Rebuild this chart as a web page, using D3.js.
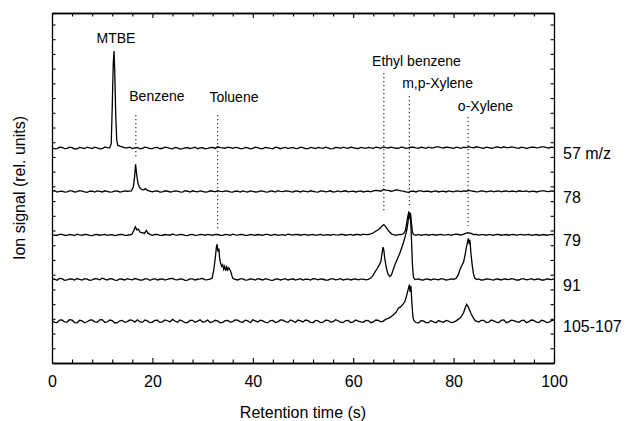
<!DOCTYPE html>
<html>
<head>
<meta charset="utf-8">
<script src="https://cdn.jsdelivr.net/npm/d3@7/dist/d3.min.js"></script>
<style>
  html, body { margin: 0; padding: 0; background: #fff; }
  svg { display: block; }
  text { font-family: "Liberation Sans", Arial, Helvetica, sans-serif; fill: #000; }
</style>
</head>
<body>
<svg id="chart" width="627" height="421"></svg>
<script>
// ---------- DATA ----------
const xTicks = [0, 20, 40, 60, 80, 100];
const traceNames = ["57 m/z", "78", "79", "91", "105-107"];
const traceBaselines = [146, 116.5, 87, 56.7, 28.3];

const trace57 = [[0,0.4],[1,-0.3],[2,0.5],[3,-0.2],[4,0.3],[5,-0.5],[6,0.2],[7,0.6],[8,-0.3],[9,0.1],[10,-0.4],[11,0.3],[11.5,0.2],[11.8,3],[12.0,28],[12.2,57],[12.35,66],[12.5,52],[12.7,22],[12.9,5],[13.1,2],[13.5,1.4],[14,0.8],[15,0.2],[16,-0.3],[17,0.4],[18,-0.2],[19,0.3],[20,-0.4],[21,0.5],[22,-0.1],[23,0.3],[24,-0.5],[25,0.2],[26,-0.3],[27,0.4],[28,0.1],[29,-0.4],[30,0.3],[31,-0.2],[32,0.5],[33,0.9],[34,0.2],[35,0.7],[36,-0.2],[37,0.3],[38,-0.4],[39,0.2],[40,-0.1],[41,0.4],[42,-0.3],[43,0.2],[44,-0.5],[45,0.3],[46,0.1],[47,-0.3],[48,0.4],[49,-0.2],[50,0.3],[51,-0.4],[52,0.2],[53,0.5],[54,-0.2],[55,0.1],[56,-0.4],[57,0.3],[58,0.6],[59,-0.1],[60,0.4],[61,-0.3],[62,0.2],[63,0.5],[64,-0.2],[65,0.3],[66,0.8],[67,0.1],[68,0.4],[69,-0.2],[70,0.5],[71,0.2],[72,0.6],[73,-0.1],[74,0.4],[75,0.7],[76,0.2],[77,0.8],[78,0.1],[79,0.5],[80,-0.2],[81,0.3],[82,0.6],[83,1.0],[84,0.2],[85,0.5],[86,-0.1],[87,0.4],[88,0.2],[89,0.6],[90,0.9],[91,0.3],[92,0.5],[93,-0.1],[94,0.4],[95,0.2],[96,0.6],[97,0.3],[98,0.8],[99,0.1],[100,0.4]];
const trace57Half = [[0.5,-0.5],[1.5,0.6],[2.5,-0.4],[3.5,0.7],[4.5,-0.6],[5.5,0.5],[6.5,-0.3],[7.5,0.2],[8.5,0.6],[9.5,-0.5],[10.5,0.8],[14.5,0.1],[15.5,0.7],[16.5,0.2],[17.5,-0.5],[18.5,0.6],[19.5,-0.3],[20.5,0.4],[21.5,-0.4],[22.5,0.6],[23.5,-0.2],[24.5,0.5],[25.5,-0.6],[26.5,0.2],[27.5,-0.3],[28.5,0.6],[29.5,0.1],[30.5,-0.5],[31.5,0.4],[32.5,-0.2],[33.5,0.3],[34.5,-0.1],[35.5,0.4],[36.5,0.5],[37.5,-0.4],[38.5,0.5],[39.5,-0.5],[40.5,0.6],[41.5,-0.3],[42.5,0.5],[43.5,-0.2],[44.5,0.6],[45.5,-0.4],[46.5,0.5],[47.5,0.2],[48.5,-0.4],[49.5,0.6],[50.5,-0.3],[51.5,0.5],[52.5,-0.3],[53.5,0.1],[54.5,0.6],[55.5,-0.5],[56.5,0.4],[57.5,-0.2],[58.5,0.1],[59.5,0.6],[60.5,-0.1],[61.5,0.5],[62.5,-0.2],[63.5,0.1],[64.5,0.6],[65.5,-0.1],[66.5,0.3],[67.5,0.7],[68.5,-0.1],[69.5,0.6],[70.5,-0.2],[71.5,0.7],[72.5,0.1],[73.5,0.6],[74.5,-0.1],[75.5,0.2],[76.5,0.9],[77.5,0.3],[78.5,0.7],[79.5,0.2],[80.5,0.6],[81.5,-0.1],[82.5,0.4],[83.5,0.5],[84.5,0.9],[85.5,0.1],[86.5,0.7],[87.5,-0.1],[88.5,0.8],[89.5,0.2],[90.5,0.4],[91.5,0.8],[92.5,0.1],[93.5,0.6],[94.5,-0.1],[95.5,0.7],[96.5,0.2],[97.5,0.9],[98.5,0.3],[99.5,0.6]];

const trace78 = [[0,0.2],[1,-0.4],[2,0.3],[3,-0.2],[4,0.5],[5,-0.1],[6,0.3],[7,-0.5],[8,0.2],[9,0.4],[10,-0.3],[11,0.1],[12,-0.2],[13,0.4],[14,-0.1],[15,0.2],[15.8,0.5],[16.2,3],[16.45,10],[16.65,18.5],[16.85,12],[17.1,6],[17.4,3],[17.8,1.5],[18.3,1.2],[18.6,2],[19,0.8],[19.5,0.3],[20,-0.2],[21,0.4],[22,-0.3],[23,0.2],[24,-0.1],[25,0.3],[26,-0.4],[27,0.2],[28,0.5],[29,-0.2],[30,0.1],[31,-0.3],[32,0.2],[33,0.6],[34,-0.1],[35,0.3],[36,-0.4],[37,0.2],[38,0.4],[39,-0.3],[40,0.1],[41,-0.2],[42,0.3],[43,-0.4],[44,0.2],[45,0.5],[46,-0.1],[47,0.3],[48,-0.3],[49,0.2],[50,0.4],[51,-0.2],[52,0.1],[53,-0.4],[54,0.3],[55,0.1],[56,-0.3],[57,0.4],[58,0.2],[59,-0.2],[60,0.3],[61,0.1],[62,-0.3],[63,0.2],[64,0.4],[65,0.6],[66,1.4],[67,0.8],[68,0.5],[69,1.0],[70,0.3],[71,-0.6],[72,0.2],[73,0.4],[74,-0.1],[75,0.3],[76,0.1],[77,-0.3],[78,0.2],[79,0.4],[80,-0.2],[81,0.3],[82,0.5],[83,0.8],[84,0.2],[85,-0.1],[86,0.3],[87,0.1],[88,-0.2],[89,0.4],[90,0.2],[91,-0.1],[92,0.3],[93,0.5],[94,0.1],[95,-0.2],[96,0.3],[97,0.1],[98,0.4],[99,-0.1],[100,0.2]];
const trace78Half = [[0.5,0.5],[1.5,0.1],[2.5,-0.4],[3.5,0.4],[4.5,-0.3],[5.5,0.6],[6.5,-0.2],[7.5,0.3],[8.5,-0.4],[9.5,0.1],[10.5,0.5],[11.5,-0.4],[12.5,0.3],[13.5,-0.3],[14.5,0.5],[20.5,0.3],[21.5,-0.4],[22.5,0.5],[23.5,-0.3],[24.5,0.4],[25.5,-0.2],[26.5,0.5],[27.5,-0.3],[28.5,0.1],[29.5,0.4],[30.5,-0.4],[31.5,0.5],[32.5,-0.2],[33.5,0.1],[34.5,0.5],[35.5,-0.3],[36.5,0.3],[37.5,-0.4],[38.5,-0.1],[39.5,0.4],[40.5,-0.3],[41.5,0.5],[42.5,-0.2],[43.5,0.4],[44.5,-0.4],[45.5,0.1],[46.5,0.5],[47.5,-0.1],[48.5,0.4],[49.5,-0.3],[50.5,0.1],[51.5,0.5],[52.5,-0.3],[53.5,0.4],[54.5,-0.2],[55.5,0.5],[56.5,-0.1],[57.5,-0.2],[58.5,0.5],[59.5,0.1],[60.5,-0.3],[61.5,0.4],[62.5,0.1],[63.5,-0.2],[64.5,0.8],[65.5,0.2],[66.5,0.9],[67.5,0.2],[68.5,1.1],[69.5,0.4],[70.5,-0.2],[71.5,0.3],[72.5,-0.3],[73.5,0.5],[74.5,0.2],[75.5,-0.3],[76.5,0.4],[77.5,0.1],[78.5,-0.3],[79.5,0.1],[80.5,0.5],[81.5,-0.1],[82.5,0.2],[83.5,0.4],[84.5,-0.2],[85.5,0.4],[86.5,-0.2],[87.5,0.4],[88.5,0.2],[89.5,-0.2],[90.5,0.5],[91.5,0.2],[92.5,-0.2],[93.5,0.2],[94.5,0.4],[95.5,0.1],[96.5,-0.3],[97.5,0.5],[98.5,0.1],[99.5,0.4]];

const trace79 = [[0,0.3],[1,-0.2],[2,0.4],[3,-0.3],[4,0.1],[5,0.5],[6,-0.2],[7,0.2],[8,-0.4],[9,0.3],[10,0.1],[11,-0.3],[12,0.2],[13,-0.1],[14,0.4],[15,-0.2],[15.9,0.4],[16.3,3],[16.6,5.5],[16.9,3.5],[17.2,4],[17.6,1.8],[18.0,1.5],[18.4,1.0],[18.8,3],[19.1,1.2],[19.6,0.2],[20,-0.3],[21,0.3],[22,-0.2],[23,0.1],[24,0.6],[25,-0.1],[26,0.2],[27,-0.4],[28,0.3],[29,-0.1],[30,0.2],[31,0.4],[32,-0.2],[33,0.3],[34,-0.3],[35,0.2],[36,0.5],[37,-0.1],[38,0.2],[39,-0.3],[40,0.1],[41,0.3],[42,-0.2],[43,0.4],[44,0.1],[45,-0.3],[46,0.2],[47,0.5],[48,-0.1],[49,0.3],[50,0.2],[51,-0.2],[52,0.4],[53,0.1],[54,-0.3],[55,0.2],[56,0.4],[57,-0.1],[58,0.3],[59,0.1],[60,-0.2],[61,0.3],[62,0.5],[63,0.3],[63.5,0.8],[64,1.5],[64.5,2.5],[65,3.5],[65.5,5],[65.8,6.2],[66.1,7],[66.4,6],[66.7,4.5],[67,3],[67.3,1.8],[67.7,0.6],[68,0.2],[68.5,-0.3],[69,0.2],[69.5,0.3],[70,0.8],[70.4,3],[70.7,9],[70.9,13],[71.1,16],[71.25,11],[71.4,15],[71.6,8],[71.8,2],[72,0.3],[72.5,-0.2],[73,0.4],[74,0.1],[75,-0.2],[76,0.3],[77,0.2],[78,-0.1],[79,0.4],[80,0.2],[81,0.3],[82,0.6],[82.8,1.5],[83.5,1.0],[84,0.3],[85,-0.1],[86,0.2],[87,0.4],[88,-0.2],[89,0.3],[90,0.1],[91,-0.2],[92,0.3],[93,0.2],[94,-0.1],[95,0.4],[96,0.1],[97,-0.2],[98,0.3],[99,0.1],[100,0.2]];
const trace79Half = [[0.5,-0.3],[1.5,0.4],[2.5,-0.2],[3.5,0.3],[4.5,-0.4],[5.5,0.1],[6.5,0.4],[7.5,-0.3],[8.5,0.2],[9.5,-0.2],[10.5,0.4],[11.5,0.1],[12.5,-0.4],[13.5,0.3],[14.5,-0.3],[20.5,0.4],[21.5,-0.3],[22.5,0.3],[23.5,-0.2],[24.5,0.1],[25.5,0.4],[26.5,-0.3],[27.5,0.2],[28.5,-0.3],[29.5,0.4],[30.5,-0.2],[31.5,0.1],[32.5,0.4],[33.5,-0.2],[34.5,0.4],[35.5,-0.3],[36.5,0.1],[37.5,0.4],[38.5,-0.3],[39.5,0.3],[40.5,-0.2],[41.5,0.1],[42.5,0.4],[43.5,-0.3],[44.5,0.3],[45.5,0.1],[46.5,-0.3],[47.5,0.2],[48.5,0.4],[49.5,-0.2],[50.5,0.4],[51.5,0.1],[52.5,-0.3],[53.5,0.4],[54.5,0.1],[55.5,-0.2],[56.5,0.1],[57.5,0.4],[58.5,-0.2],[59.5,0.4],[60.5,0.3],[61.5,-0.1],[62.5,0.2],[73.5,-0.2],[74.5,0.4],[75.5,0.2],[76.5,-0.2],[77.5,0.4],[78.5,0.1],[79.5,-0.2],[80.5,0.5],[81.5,-0.1],[84.5,0.4],[85.5,0.2],[86.5,-0.2],[87.5,0.1],[88.5,0.4],[89.5,-0.2],[90.5,0.3],[91.5,0.2],[92.5,-0.3],[93.5,0.4],[94.5,0.2],[95.5,-0.2],[96.5,0.3],[97.5,0.1],[98.5,-0.2],[99.5,0.4]];

const trace91 = [[0,0.4],[1,-0.5],[2,0.6],[3,-0.3],[4,0.2],[5,0.7],[6,-0.4],[7,0.3],[8,-0.2],[9,0.5],[10,0.9],[11,-0.3],[12,0.4],[13,-0.5],[14,0.2],[15,0.6],[16,-0.2],[17,0.3],[18,-0.4],[19,0.5],[20,0.1],[21,-0.3],[22,0.4],[23,0.2],[24,0.8],[25,-0.2],[26,0.3],[27,-0.4],[28,0.5],[29,0.2],[30,0.7],[31,-0.1],[31.5,0.3],[31.9,1],[32.2,6],[32.5,14],[32.75,22],[32.9,24],[33.05,19],[33.25,21],[33.4,14],[33.6,11],[33.8,9],[34.0,10],[34.2,7],[34.4,9],[34.6,6],[34.8,8.5],[35.0,6.5],[35.2,8],[35.4,7],[35.6,5.5],[35.8,3],[36.0,1],[36.3,0.3],[37,-0.3],[38,0.4],[39,-0.2],[40,0.3],[41,0.6],[42,-0.3],[43,0.2],[44,-0.5],[45,0.4],[46,0.1],[47,-0.3],[48,0.5],[49,0.2],[50,-0.4],[51,0.3],[52,0.6],[53,-0.2],[54,0.2],[55,-0.4],[56,0.5],[57,0.1],[58,-0.3],[59,0.4],[60,0.2],[61,-0.2],[62,0.3],[63,0.1],[63.5,1],[64,3],[64.4,5.5],[64.8,7.5],[65.2,10],[65.5,12],[65.75,18],[65.95,22],[66.1,20],[66.3,14],[66.6,8],[66.9,4],[67.3,2],[67.6,3],[68.0,7],[68.3,10],[68.8,14],[69.3,18],[69.7,22],[70.0,25],[70.4,30],[70.7,34],[70.95,40],[71.1,45],[71.25,41],[71.4,44],[71.6,28],[71.8,10],[72.0,1.5],[72.3,0],[73,0.4],[74,-0.3],[75,0.2],[76,0.5],[77,-0.2],[78,0.3],[79,-0.1],[80,0.2],[80.5,0.8],[80.9,3],[81.3,7],[81.7,10],[82.0,12],[82.3,17],[82.55,22],[82.8,26],[82.95,28],[83.1,24],[83.25,27],[83.45,18],[83.7,10],[83.95,4],[84.2,1],[84.6,0],[85,0.4],[86,-0.2],[87,0.3],[88,-0.4],[89,0.2],[90,0.5],[91,-0.1],[92,0.3],[93,-0.3],[94,0.4],[95,0.1],[96,-0.2],[97,0.5],[98,-0.3],[99,0.2],[100,0.4]];
const trace91Half = [[0.5,0.2],[1.5,0.7],[2.5,-0.5],[3.5,0.5],[4.5,-0.4],[5.5,0.1],[6.5,0.6],[7.5,-0.5],[8.5,0.6],[9.5,-0.2],[10.5,0.3],[11.5,0.6],[12.5,-0.4],[13.5,0.5],[14.5,-0.3],[15.5,0.1],[16.5,0.7],[17.5,-0.3],[18.5,0.4],[19.5,-0.5],[20.5,0.6],[21.5,0.2],[22.5,-0.4],[23.5,0.6],[24.5,-0.1],[25.5,0.5],[26.5,-0.5],[27.5,0.4],[28.5,-0.3],[29.5,0.4],[30.5,-0.2],[37.5,0.5],[38.5,-0.4],[39.5,0.5],[40.5,-0.3],[41.5,0.2],[42.5,0.6],[43.5,-0.4],[44.5,0.3],[45.5,-0.3],[46.5,0.6],[47.5,0.1],[48.5,-0.4],[49.5,0.6],[50.5,0.2],[51.5,-0.3],[52.5,0.4],[53.5,0.5],[54.5,-0.3],[55.5,0.4],[56.5,-0.2],[57.5,0.6],[58.5,0.1],[59.5,-0.3],[60.5,0.5],[61.5,0.3],[62.5,-0.2],[73.5,-0.2],[74.5,0.5],[75.5,-0.3],[76.5,0.1],[77.5,0.6],[78.5,-0.3],[79.5,0.5],[85.5,-0.3],[86.5,0.5],[87.5,-0.1],[88.5,0.5],[89.5,-0.3],[90.5,0.2],[91.5,0.6],[92.5,-0.3],[93.5,0.5],[94.5,-0.2],[95.5,0.6],[96.5,0.2],[97.5,-0.3],[98.5,0.5],[99.5,-0.1]];

const trace105 = [[0,0.6],[1,-0.8],[2,1.0],[3,-0.5],[4,0.8],[5,-1.0],[6,0.4],[7,-0.3],[8,0.9],[9,-0.6],[10,1.2],[11,-0.4],[12,0.5],[13,-0.9],[14,0.7],[15,-0.2],[16,0.6],[17,1.1],[18,-0.7],[19,0.3],[20,-0.5],[21,0.8],[22,-0.3],[23,0.4],[24,1.3],[25,-0.6],[26,0.2],[27,-0.8],[28,0.7],[29,0.1],[30,-0.5],[31,0.9],[32,-0.4],[33,0.3],[34,-0.7],[35,0.6],[36,-0.2],[37,0.8],[38,-0.6],[39,0.4],[40,1.0],[41,-0.5],[42,0.3],[43,-0.9],[44,0.6],[45,-0.3],[46,0.8],[47,-0.7],[48,0.2],[49,0.9],[50,-0.4],[51,0.5],[52,-0.8],[53,0.3],[54,-0.6],[55,0.7],[56,-0.2],[57,0.4],[58,-0.9],[59,0.6],[60,-0.3],[61,0.2],[62,-0.7],[63,0.5],[64,-0.4],[65,0.6],[66,0.2],[66.5,1.5],[67,2],[67.5,3],[68,4.5],[68.5,6],[69,9],[69.5,10],[70,12],[70.3,13.5],[70.6,17],[70.9,21],[71.05,23],[71.2,25],[71.35,20],[71.5,24],[71.7,12],[71.9,3],[72.1,0.5],[72.5,-0.8],[73,-1.2],[74,0.3],[75,-0.9],[76,-0.4],[77,0.5],[78,-0.7],[79,0.2],[80,-0.5],[80.5,0.3],[81,1.5],[81.5,3],[82,6],[82.3,9],[82.6,11.5],[82.9,10],[83.2,7.5],[83.5,5],[83.9,2.5],[84.3,0.5],[85,-0.5],[86,0.7],[87,-0.6],[88,0.4],[89,-0.8],[90,1.0],[91,-0.3],[92,0.5],[93,-0.7],[94,0.8],[95,-0.2],[96,0.6],[97,-0.9],[98,0.4],[99,-0.5],[100,0.8]];
const trace105Half = [[0.5,-0.7],[1.5,0.9],[2.5,-0.4],[3.5,1.1],[4.5,-0.8],[5.5,0.7],[6.5,-1.0],[7.5,0.8],[8.5,-0.3],[9.5,1.0],[10.5,-0.6],[11.5,0.9],[12.5,-1.1],[13.5,0.4],[14.5,-0.7],[15.5,1.0],[16.5,-0.5],[17.5,-0.2],[18.5,0.9],[19.5,-0.9],[20.5,0.6],[21.5,-0.7],[22.5,1.0],[23.5,-0.4],[24.5,0.2],[25.5,0.9],[26.5,-0.9],[27.5,0.6],[28.5,-0.6],[29.5,1.0],[30.5,-0.2],[31.5,-0.8],[32.5,0.7],[33.5,-1.0],[34.5,0.5],[35.5,-0.5],[36.5,1.0],[37.5,-0.3],[38.5,0.8],[39.5,-0.9],[40.5,0.3],[41.5,0.8],[42.5,-0.7],[43.5,0.5],[44.5,-0.8],[45.5,1.0],[46.5,-0.2],[47.5,0.9],[48.5,-0.8],[49.5,0.3],[50.5,0.9],[51.5,-0.7],[52.5,0.6],[53.5,-0.9],[54.5,0.8],[55.5,-0.5],[56.5,1.1],[57.5,-0.6],[58.5,0.5],[59.5,-0.8],[60.5,0.9],[61.5,-0.4],[62.5,0.6],[63.5,-0.9],[64.5,0.9],[65.5,-0.3],[73.5,0.4],[74.5,-0.8],[75.5,0.6],[76.5,-1.0],[77.5,-0.2],[78.5,0.6],[79.5,-0.9],[85.5,0.6],[86.5,-0.8],[87.5,0.9],[88.5,-0.5],[89.5,0.7],[90.5,-0.9],[91.5,0.8],[92.5,-0.2],[93.5,0.5],[94.5,-0.9],[95.5,0.9],[96.5,-0.6],[97.5,0.7],[98.5,-0.8],[99.5,0.5]];

const traces = [trace57, trace78, trace79, trace91, trace105];
const tracesHalf = [trace57Half, trace78Half, trace79Half, trace91Half, trace105Half];

// compound annotations
const compounds = ["MTBE", "Benzene", "Toluene", "Ethyl benzene", "m,p-Xylene", "o-Xylene"];
const compoundTimes = [12.35, 16.7, 33.0, 66.1, 71.2, 82.9];
const labelX = [12.75, 20.9, 36.25, 72.6, 76.8, 86.35];
const labelY = [217.4, 178, 177, 202, 186.8, 171.4];
const markerTop = [null, 168.5, 168.5, 197, 181.4, 167.1];
const markerBottom = [null, 140, 89.7, 101.9, 107.3, 93.1];

// ---------- LAYOUT ----------
const svg = d3.select("#chart");
const L = 52, R = 554, T = 13, B = 363;
const x = d3.scaleLinear().domain([0, 100]).range([L, R]);
const y = d3.scaleLinear().domain([0, 237.8]).range([B, T]);

const minorX = d3.range(0, 101, 4).filter(v => v % 20 !== 0);
const yTicks = d3.range(10, 231, 10);

function styleAxis(g) {
  g.select(".domain").attr("stroke", "#000").attr("stroke-width", 1.3);
  g.selectAll(".tick line").attr("stroke", "#000").attr("stroke-width", 1.1);
}

svg.append("g").attr("transform", `translate(0,${B})`)
  .call(d3.axisBottom(x).tickValues(xTicks).tickSizeInner(-5).tickSizeOuter(0).tickPadding(13))
  .call(styleAxis)
  .call(g => g.selectAll("text").attr("font-size", 16).attr("font-family", "Liberation Sans, Arial, sans-serif").attr("fill", "#000"));
svg.append("g").attr("transform", `translate(0,${B})`)
  .call(d3.axisBottom(x).tickValues(minorX).tickSizeInner(-3.5).tickSizeOuter(0).tickFormat(""))
  .call(styleAxis);
svg.append("g").attr("transform", `translate(0,${T})`)
  .call(d3.axisTop(x).tickValues(xTicks).tickSizeInner(-5).tickSizeOuter(0).tickFormat(""))
  .call(styleAxis);
svg.append("g").attr("transform", `translate(0,${T})`)
  .call(d3.axisTop(x).tickValues(minorX).tickSizeInner(-3.5).tickSizeOuter(0).tickFormat(""))
  .call(styleAxis);
svg.append("g").attr("transform", `translate(${L},0)`)
  .call(d3.axisLeft(y).tickValues(yTicks).tickSizeInner(-3.5).tickSizeOuter(0).tickFormat(""))
  .call(styleAxis);
svg.append("g").attr("transform", `translate(${R},0)`)
  .call(d3.axisRight(y).tickValues(yTicks).tickSizeInner(-3.5).tickSizeOuter(0).tickFormat(""))
  .call(styleAxis);

// dotted marker lines
compounds.forEach((c, i) => {
  if (markerTop[i] === null) return;
  svg.append("line")
    .attr("x1", x(compoundTimes[i])).attr("x2", x(compoundTimes[i]))
    .attr("y1", y(markerTop[i])).attr("y2", y(markerBottom[i]))
    .attr("stroke", "#333").attr("stroke-width", 1.2)
    .attr("stroke-dasharray", "1.2,2.8");
});

// traces
const line = d3.line();
traces.forEach((tr, i) => {
  const base = traceBaselines[i];
  const pts = tr.concat(tracesHalf[i]).sort((a, b) => a[0] - b[0]);
  svg.append("path")
    .attr("d", line(pts.map(d => [x(d[0]), y(base + d[1])])))
    .attr("fill", "none").attr("stroke", "#000").attr("stroke-width", 1.3)
    .attr("stroke-linejoin", "miter");
  svg.append("text")
    .attr("x", R + 9).attr("y", y(base) + 11)
    .attr("font-size", 16)
    .text(traceNames[i]);
});

// compound labels
compounds.forEach((c, i) => {
  svg.append("text")
    .attr("x", x(labelX[i])).attr("y", y(labelY[i]))
    .attr("text-anchor", "middle").attr("font-size", 14)
    .text(c);
});

// axis titles
svg.append("text").attr("x", (L + R) / 2).attr("y", 418)
  .attr("text-anchor", "middle").attr("font-size", 16)
  .text("Retention time (s)");
svg.append("text").attr("transform", `translate(25,${(T + B) / 2}) rotate(-90)`)
  .attr("text-anchor", "middle").attr("font-size", 16)
  .text("Ion signal (rel. units)");
</script>
</body>
</html>
